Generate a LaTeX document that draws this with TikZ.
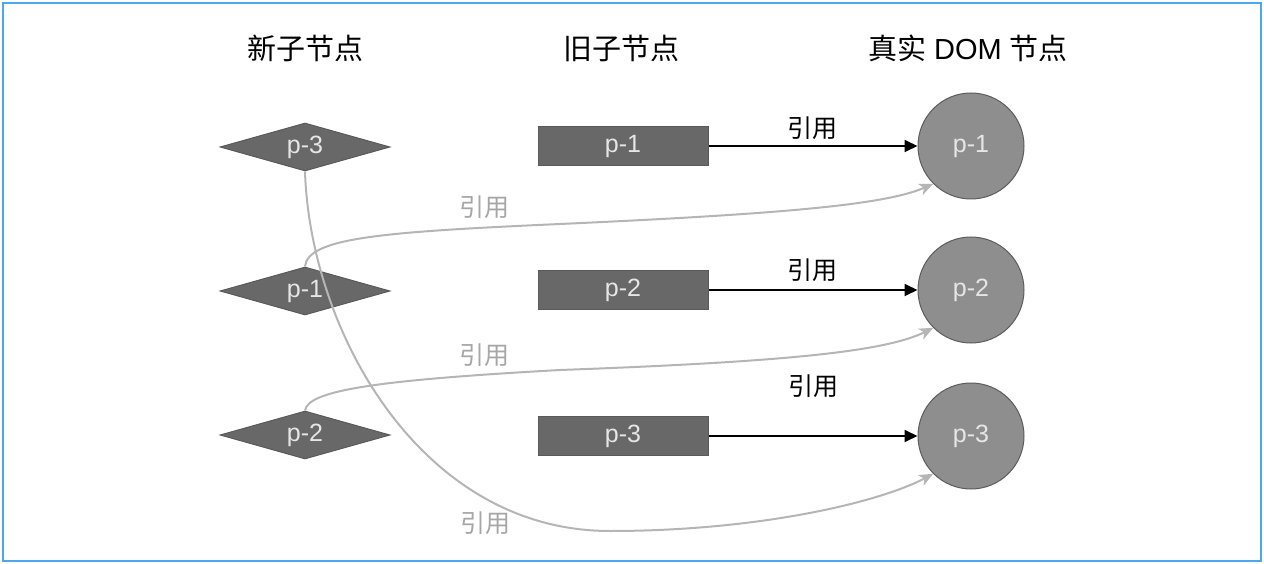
\documentclass[tikz,border=0pt]{standalone}
\usepackage{fontspec}
\setmainfont{Liberation Sans}
\newfontfamily\cjk{Noto Sans CJK SC}
\usetikzlibrary{shapes.geometric,arrows.meta}
\definecolor{frameblue}{HTML}{4DA6F0}
\definecolor{dfill}{HTML}{686868}
\definecolor{dline}{HTML}{5A5A5A}
\definecolor{cfill}{HTML}{8E8E8E}
\definecolor{cline}{HTML}{5C5C5C}
\definecolor{ptext}{HTML}{E6E6E6}
\definecolor{glink}{HTML}{B5B5B5}
\definecolor{glabel}{HTML}{A6A6A6}
\tikzset{
  newnode/.style={diamond, aspect=3.5, fill=dfill, draw=dline, line width=1pt, minimum width=170pt, minimum height=48pt, inner sep=0pt, text=ptext, font=\fontsize{25}{25}\selectfont},
  oldnode/.style={rectangle, fill=dfill, draw=dline, line width=1pt, minimum width=170pt, minimum height=39pt, inner sep=0pt, text=ptext, font=\fontsize{25}{25}\selectfont},
  domnode/.style={circle, fill=cfill, draw=cline, line width=1pt, minimum size=106pt, inner sep=0pt, text=ptext, font=\fontsize{25}{25}\selectfont},
  header/.style={font=\fontsize{29}{29}\selectfont, text=black},
  reflabel/.style={font=\cjk\fontsize{25}{25}\selectfont, text=black},
  greflabel/.style={font=\cjk\fontsize{25}{25}\selectfont, text=glabel},
  blackref/.style={draw=black, line width=1.8pt, -{Triangle[length=13pt,width=12pt]}},
  grayref/.style={draw=glink, line width=2pt, -{Stealth[length=14pt,width=12pt,inset=4pt]}},
}
\begin{document}
\begin{tikzpicture}[x=1pt,y=-1pt]
\useasboundingbox (0,0) rectangle (1264,564);
\draw[frameblue, line width=2.5pt] (3,3) rectangle (1261,561);

% headers
\node[header] (h1) at (305,48) {\cjk 新子节点};
\node[header] (h2) at (621,48) {\cjk 旧子节点};
\node[header] (h3) at (968,48) {{\cjk 真实} DOM {\cjk 节点}};

% new children (diamonds)
\node[newnode] (n3) at (305,147) {p-3};
\node[newnode] (n1) at (305,291) {p-1};
\node[newnode] (n2) at (305,435) {p-2};

% old children (rectangles)
\node[oldnode] (o1) at (623,146) {p-1};
\node[oldnode] (o2) at (623,290) {p-2};
\node[oldnode] (o3) at (623,436) {p-3};

% real DOM (circles)
\node[domnode] (c1) at (971,146) {p-1};
\node[domnode] (c2) at (971,290) {p-2};
\node[domnode] (c3) at (971,436) {p-3};

% black references
\draw[blackref] (o1.east) -- (c1.west);
\draw[blackref] (o2.east) -- (c2.west);
\draw[blackref] (o3.east) -- (c3.west);
\node[reflabel] (l1) at (812,128) {引用};
\node[reflabel] (l2) at (812,270) {引用};
\node[reflabel] (l3) at (813,386) {引用};

% gray references
\draw[grayref] (n1.north) .. controls (308,238) and (380,232) .. (560,224)
  .. controls (780,214) and (885,205) .. (c1.south west);
\draw[grayref] (n2.north) .. controls (308,390) and (380,380) .. (560,370)
  .. controls (780,362) and (885,352) .. (c2.south west);
\draw[grayref] (n3.south) .. controls (310,330) and (420,531) .. (610,531)
  .. controls (760,531) and (880,502) .. (c3.south west);
\node[greflabel] (g1) at (484,207) {引用};
\node[greflabel] (g2) at (484,355) {引用};
\node[greflabel] (g3) at (485,523) {引用};
\end{tikzpicture}
\end{document}
